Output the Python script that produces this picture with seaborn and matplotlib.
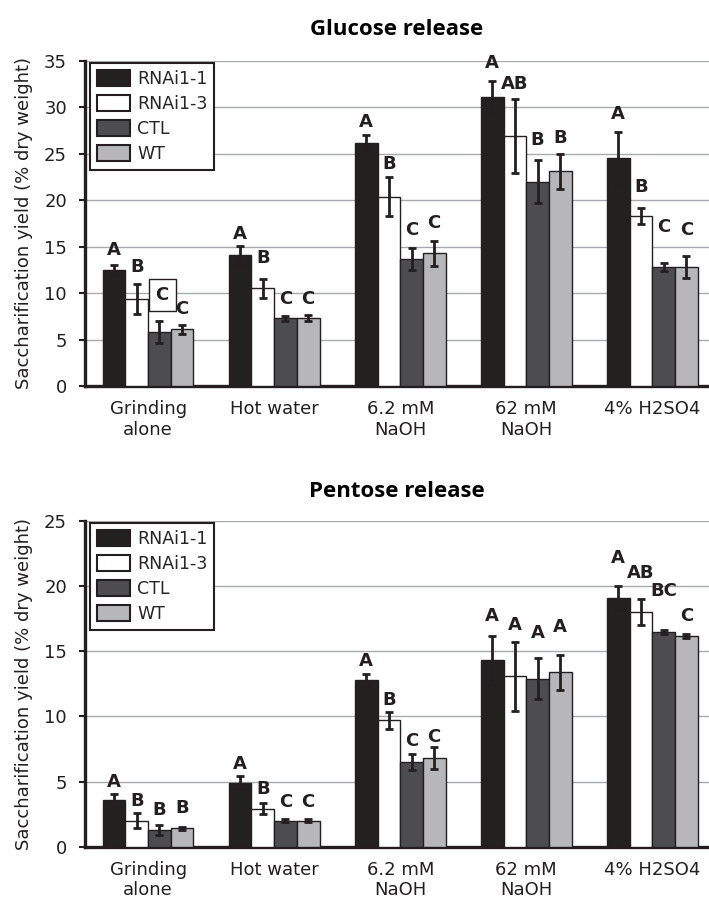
import matplotlib
matplotlib.use("Agg")
import matplotlib.pyplot as plt
import seaborn as sns
import pandas as pd

# ---- data ----
treatments = ["Grinding\nalone", "Hot water", "6.2 mM\nNaOH", "62 mM\nNaOH", "4% H2SO4"]
lines = ["RNAi1-1", "RNAi1-3", "CTL", "WT"]

glucose_rnai11 = [12.5, 14.1, 26.2, 31.1, 24.5]
glucose_rnai13 = [9.4, 10.5, 20.4, 26.9, 18.3]
glucose_ctl = [5.8, 7.3, 13.7, 22.0, 12.8]
glucose_wt = [6.1, 7.3, 14.3, 23.1, 12.8]

glucose_err_rnai11 = [0.55, 1.0, 0.8, 1.75, 2.8]
glucose_err_rnai13 = [1.6, 1.0, 2.1, 4.0, 0.9]
glucose_err_ctl = [1.15, 0.25, 1.2, 2.3, 0.4]
glucose_err_wt = [0.45, 0.3, 1.35, 1.9, 1.2]

glucose_letters_rnai11 = ["A", "A", "A", "A", "A"]
glucose_letters_rnai13 = ["B", "B", "B", "AB", "B"]
glucose_letters_ctl = ["C", "C", "C", "B", "C"]
glucose_letters_wt = ["C", "C", "C", "B", "C"]

pentose_rnai11 = [3.6, 4.9, 12.8, 14.3, 19.1]
pentose_rnai13 = [2.0, 2.9, 9.7, 13.1, 18.0]
pentose_ctl = [1.3, 2.0, 6.5, 12.9, 16.5]
pentose_wt = [1.4, 2.0, 6.8, 13.4, 16.2]

pentose_err_rnai11 = [0.45, 0.5, 0.43, 1.9, 0.92]
pentose_err_rnai13 = [0.55, 0.42, 0.65, 2.65, 1.0]
pentose_err_ctl = [0.38, 0.1, 0.6, 1.6, 0.15]
pentose_err_wt = [0.12, 0.1, 0.85, 1.35, 0.15]

pentose_letters_rnai11 = ["A", "A", "A", "A", "A"]
pentose_letters_rnai13 = ["B", "B", "B", "A", "AB"]
pentose_letters_ctl = ["B", "C", "C", "A", "BC"]
pentose_letters_wt = ["B", "C", "C", "A", "C"]

# extra vertical nudge of the letters (pixels), per treatment x line
glucose_nudge = [[0, 2, 12, 1], [-3, 6, 2, 2], [-1, -2, 3, 3], [3, 0, 6, 1], [4, 6, 22, 11]]
pentose_nudge = [[-3, -2, 0, 4], [-2, 0, 3, 3], [-1, -3, -2, -5], [5, 2, 10, 13], [13, 11, 24, 3]]

colors = ["#231f20", "#ffffff", "#4d4d4f", "#b6b7ba"]
ink = "#231f20"


def long_df(means, errs, letters):
    rows = []
    for line, m, e, l in zip(lines, means, errs, letters):
        for t, mv, ev, lv in zip(treatments, m, e, l):
            rows.append({"treatment": t, "line": line, "yield": mv, "err": ev, "letter": lv})
    return pd.DataFrame(rows)


glucose = long_df([glucose_rnai11, glucose_rnai13, glucose_ctl, glucose_wt],
                  [glucose_err_rnai11, glucose_err_rnai13, glucose_err_ctl, glucose_err_wt],
                  [glucose_letters_rnai11, glucose_letters_rnai13, glucose_letters_ctl, glucose_letters_wt])
pentose = long_df([pentose_rnai11, pentose_rnai13, pentose_ctl, pentose_wt],
                  [pentose_err_rnai11, pentose_err_rnai13, pentose_err_ctl, pentose_err_wt],
                  [pentose_letters_rnai11, pentose_letters_rnai13, pentose_letters_ctl, pentose_letters_wt])

sns.set_style("white")
plt.rcParams["font.family"] = ["DejaVu Sans"]

fig = plt.figure(figsize=(7.09, 9.05), dpi=100)
ax1 = fig.add_axes([0.12, 0.5735, 0.88, 0.3591])
ax2 = fig.add_axes([0.12, 0.0644, 0.88, 0.3599])


def draw(ax, df, ymax, nudge, title, title_pad, boxed=None):
    sns.barplot(data=df, x="treatment", y="yield", hue="line", order=treatments,
                hue_order=lines, palette=colors, width=0.72, errorbar=None,
                edgecolor=ink, linewidth=1, ax=ax, zorder=3)
    bar_groups = list(ax.containers)
    for j, cont in enumerate(bar_groups):
        sub = df[df["line"] == lines[j]].set_index("treatment").loc[treatments]
        xs = [b.get_x() + b.get_width() / 2 for b in cont.patches]
        hs = [b.get_height() for b in cont.patches]
        ax.errorbar(xs, hs, yerr=sub["err"].values, fmt="none", ecolor=ink,
                    elinewidth=2, capsize=2.8, capthick=2, zorder=4)
        for i, (x, h) in enumerate(zip(xs, hs)):
            top = h + sub["err"].values[i]
            kw = {}
            if boxed == (i, j):
                kw["bbox"] = dict(boxstyle="square,pad=0.38", fc="white", ec=ink, lw=1)
            ax.annotate(sub["letter"].values[i], (x, top),
                        xytext=(2 if kw else 0, 7 + nudge[i][j] * 0.72),
                        textcoords="offset points", ha="center", va="baseline",
                        fontsize=13, fontweight="bold", color=ink, zorder=6, **kw)

    ax.set_ylim(0, ymax)
    ax.set_xlim(-0.5, 4.45)
    ax.set_yticks(range(0, ymax + 1, 5))
    ax.yaxis.grid(True, color="#a7a9ac", linewidth=1)
    ax.set_axisbelow(True)
    for s in ["top", "right"]:
        ax.spines[s].set_visible(False)
    for s in ["left", "bottom"]:
        ax.spines[s].set_linewidth(2.4)
        ax.spines[s].set_color(ink)
    ax.set_xticks(range(len(treatments)))
    ax.set_xticklabels(treatments)
    ax.set_xticks([-0.5, 0.5, 1.5, 2.5, 3.5], minor=True)
    ax.tick_params(axis="x", which="major", length=0, pad=10, labelsize=13, labelcolor=ink)
    ax.tick_params(axis="x", which="minor", length=4, width=2, color=ink, direction="out")
    ax.tick_params(axis="y", length=4, width=1.5, color=ink, direction="out", left=True,
                   pad=9, labelsize=13, labelcolor=ink)
    ax.set_xlabel("")
    ax.set_ylabel("Saccharification yield (% dry weight)", fontsize=13, color=ink)
    ax.yaxis.set_label_coords(-0.083, 0.5)

    handles, labels = ax.get_legend_handles_labels()
    ax.legend(handles[:4], labels[:4], loc="upper left", bbox_to_anchor=(0.008, 0.994),
              borderaxespad=0, fontsize=12.5, frameon=True, fancybox=False,
              edgecolor=ink, framealpha=1, handlelength=1.9, handleheight=1.0,
              handletextpad=0.4, labelspacing=0.4, borderpad=0.4)
    ax.get_legend().get_frame().set_linewidth(1.5)
    for p in ax.get_legend().get_patches():
        p.set_linewidth(1.5)
        p.set_edgecolor(ink)

    ax.set_title(title, fontsize=16, fontweight="bold", family="Open Sans", pad=title_pad, color="black")


draw(ax1, glucose, 35, glucose_nudge, "Glucose release", 19, boxed=(0, 2))
draw(ax2, pentose, 25, pentose_nudge, "Pentose release", 17)

fig.savefig("out.png", dpi=100)
